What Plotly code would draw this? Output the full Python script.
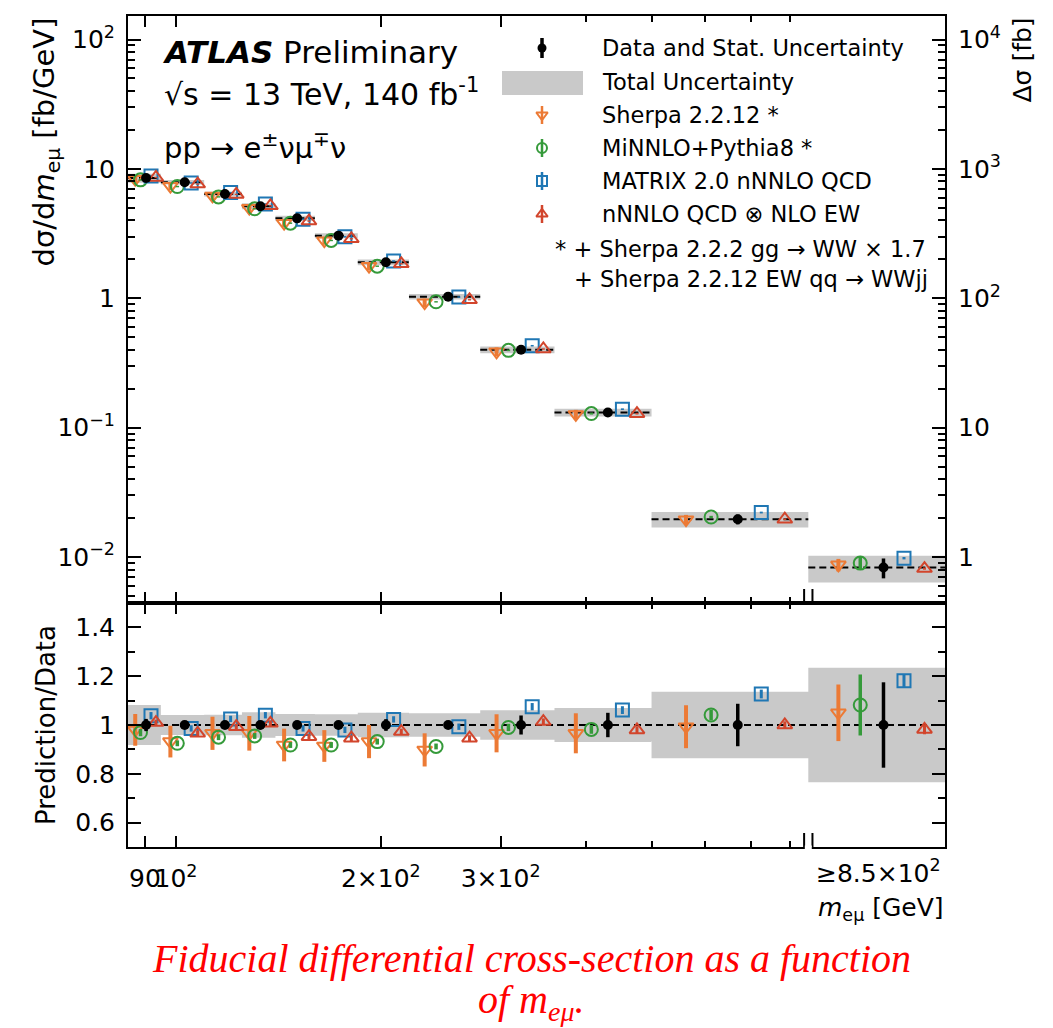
import numpy as np
import plotly.graph_objects as go

# ---------------- data ----------------
bin_edges = [85, 95, 110, 125, 140, 160, 185, 220, 280, 360, 500, 850, 1350]
data_xsec = [8.5, 7.9, 6.4, 5.15, 4.15, 3.05, 1.9, 1.03, 0.40, 0.131, 0.0196, 0.0083]
data_stat_rel = [0.025, 0.015, 0.015, 0.017, 0.015, 0.015, 0.024, 0.016, 0.039, 0.05, 0.087, 0.175]
total_unc_rel = [0.082, 0.041, 0.042, 0.052, 0.045, 0.044, 0.05, 0.048, 0.06, 0.07, 0.136, 0.235]

ratio_sherpa = [0.98, 0.932, 0.966, 0.966, 0.918, 0.914, 0.932, 0.898, 0.966, 0.966, 0.993, 1.05]
err_sherpa = [0.065, 0.065, 0.068, 0.071, 0.067, 0.065, 0.068, 0.068, 0.078, 0.082, 0.088, 0.116]
ratio_minnlo = [0.969, 0.925, 0.95, 0.955, 0.918, 0.918, 0.932, 0.912, 0.99, 0.982, 1.041, 1.082]
err_minnlo = [0.015, 0.012, 0.012, 0.012, 0.012, 0.012, 0.012, 0.012, 0.015, 0.018, 0.022, 0.125]
ratio_matrix = [1.038, 0.986, 1.025, 1.04, 0.986, 0.98, 1.023, 0.993, 1.075, 1.061, 1.127, 1.181]
err_matrix = [0.015, 0.013, 0.013, 0.013, 0.013, 0.013, 0.013, 0.013, 0.015, 0.016, 0.018, 0.025]
ratio_nnnlo = [1.01, 0.966, 0.993, 1.007, 0.952, 0.946, 0.973, 0.946, 1.014, 0.98, 1.0, 0.982]
err_nnnlo = [0.012, 0.012, 0.012, 0.012, 0.012, 0.012, 0.012, 0.012, 0.013, 0.015, 0.015, 0.02]

series_names = ["Sherpa 2.2.12 *", "MiNNLO+Pythia8 *", "MATRIX 2.0 nNNLO QCD", "nNNLO QCD \u2297 NLO EW"]
series_colors = ["#ec7a35", "#359a3a", "#1f77b4", "#d2452c"]
series_symbols = ["triangle-down-open", "circle-open", "square-open", "triangle-up-open"]
series_frac = [0.22, 0.38, 0.70, 0.85]   # position inside bin (log space)
series_bar_width = [4, 3.5, 3, 3]
data_frac = 0.55

x_tick_vals = [90, 100, 200, 300]
x_tick_text = ["90", "10<sup>2</sup>", "2\u00d710<sup>2</sup>", "3\u00d710<sup>2</sup>"]
x_minor_vals = [400, 500, 600, 700, 800]
overflow_label = "\u22658.5\u00d710<sup>2</sup>"

W, H = 1053, 1028
FONT = "DejaVu Sans"


def px(x):
    return x / W


def py(y):
    return 1 - y / H


edges = np.array(bin_edges, dtype=float)
lo, hi = np.log10(edges[:-1]), np.log10(edges[1:])


def pos(f):
    return 10 ** (lo + f * (hi - lo))


data = np.array(data_xsec)
stat = np.array(data_stat_rel)
tot = np.array(total_unc_rel)

fig = go.Figure()

# ---------- total uncertainty bands ----------
bx, by, rx, ry = [], [], [], []
for i in range(len(data)):
    e0, e1 = edges[i], edges[i + 1]
    d, u = data[i], tot[i]
    bx += [e0, e1, e1, e0, e0, None]
    by += [d * (1 - u), d * (1 - u), d * (1 + u), d * (1 + u), d * (1 - u), None]
    rx += [e0, e1, e1, e0, e0, None]
    ry += [1 - u, 1 - u, 1 + u, 1 + u, 1 - u, None]
band_col = "#c9c9c9"
fig.add_trace(go.Scatter(x=bx, y=by, mode="lines", fill="toself", fillcolor=band_col,
                         line=dict(width=0, color=band_col), xaxis="x", yaxis="y", hoverinfo="skip"))
fig.add_trace(go.Scatter(x=rx, y=ry, mode="lines", fill="toself", fillcolor=band_col,
                         line=dict(width=0, color=band_col), xaxis="x2", yaxis="y2", hoverinfo="skip"))

# ---------- dashed lines ----------
dx, dy = [], []
for i in range(len(data)):
    dx += [edges[i], edges[i + 1], None]
    dy += [data[i], data[i], None]
fig.add_trace(go.Scatter(x=dx, y=dy, mode="lines", line=dict(color="black", width=2, dash="7px,4px"),
                         xaxis="x", yaxis="y", hoverinfo="skip"))
fig.add_trace(go.Scatter(x=[edges[0], edges[-1]], y=[1, 1], mode="lines",
                         line=dict(color="black", width=2, dash="7px,4px"),
                         xaxis="x2", yaxis="y2", hoverinfo="skip"))

# ---------- predictions ----------
ratios = [ratio_sherpa, ratio_minnlo, ratio_matrix, ratio_nnnlo]
errs = [err_sherpa, err_minnlo, err_matrix, err_nnnlo]
for r, e, c, s, f, bw in zip(ratios, errs, series_colors, series_symbols, series_frac, series_bar_width):
    r = np.array(r)
    e = np.array(e)
    pred = r * data
    xs = pos(f)
    fig.add_trace(go.Scatter(x=xs, y=pred, mode="markers",
                             marker=dict(symbol=s, size=13, color=c, line=dict(width=2, color=c)),
                             error_y=dict(type="data", array=e * data, thickness=bw, width=0, color=c),
                             xaxis="x", yaxis="y"))
    fig.add_trace(go.Scatter(x=xs, y=r, mode="markers",
                             marker=dict(symbol=s, size=13, color=c, line=dict(width=2, color=c)),
                             error_y=dict(type="data", array=e, thickness=bw, width=0, color=c),
                             xaxis="x2", yaxis="y2"))

# ---------- data ----------
xd = pos(data_frac)
fig.add_trace(go.Scatter(x=xd, y=data, mode="markers",
                         marker=dict(symbol="circle", size=10, color="black"),
                         error_y=dict(type="data", array=stat * data, thickness=3.5, width=0, color="black"),
                         xaxis="x", yaxis="y"))
fig.add_trace(go.Scatter(x=xd, y=np.ones_like(data), mode="markers",
                         marker=dict(symbol="circle", size=10, color="black"),
                         error_y=dict(type="data", array=stat, thickness=3.5, width=0, color="black"),
                         xaxis="x2", yaxis="y2"))

# dummy trace to activate the right axis
fig.add_trace(go.Scatter(x=[100], y=[100], mode="markers", marker=dict(opacity=0),
                         xaxis="x", yaxis="y3", hoverinfo="skip"))

# ---------- legend glyphs (pixel overlay axis) ----------
leg_x = 542
leg_rows = [115, 148, 181, 214]
for c, s, yy in zip(series_colors, series_symbols, leg_rows):
    fig.add_trace(go.Scatter(x=[leg_x], y=[yy], mode="markers",
                             marker=dict(symbol=s, size=10, color=c, line=dict(width=2, color=c)),
                             error_y=dict(type="constant", value=9, thickness=2.5, width=0, color=c),
                             xaxis="x3", yaxis="y4", hoverinfo="skip"))
fig.add_trace(go.Scatter(x=[leg_x], y=[48], mode="markers",
                         marker=dict(symbol="circle", size=9, color="black"),
                         error_y=dict(type="constant", value=10, thickness=3.5, width=0, color="black"),
                         xaxis="x3", yaxis="y4", hoverinfo="skip"))

# ---------- axes ----------
xdom = [px(128), px(945)]
top_dom = [py(603), py(16)]
rat_dom = [py(847), py(603)]
xrange_log = [np.log10(edges[0]), np.log10(edges[-1])]
ytop_range = [-2.355, 2.182]

decades = [1e-3, 1e-2, 1e-1, 1, 10, 100]
ymin_minor = [m * d for d in decades for m in range(2, 10)]
r_decades = [1e-1, 1, 10, 100, 1000, 1e4]
r_minor = [m * d for d in r_decades for m in range(2, 10)]

tickfont = dict(family=FONT, size=25, color="black")
common_x = dict(type="log", range=xrange_log, domain=xdom, showgrid=False, zeroline=False,
                showline=True, linecolor="black", linewidth=2, mirror="ticks",
                ticks="inside", ticklen=11, tickwidth=1.5, tickcolor="black",
                tickmode="array", tickvals=x_tick_vals, ticktext=x_tick_text, tickangle=0,
                minor=dict(ticks="inside", ticklen=6, tickwidth=1.5, tickcolor="black",
                           tickmode="array", tickvals=x_minor_vals, showgrid=False))

fig.update_layout(
    width=W, height=H, margin=dict(l=0, r=0, t=0, b=0),
    paper_bgcolor="white", plot_bgcolor="rgba(0,0,0,0)", showlegend=False,
    font=dict(family=FONT, size=25, color="black"),
    xaxis=dict(**common_x, anchor="y", showticklabels=False),
    xaxis2=dict(**common_x, anchor="y2", matches="x", showticklabels=True, tickfont=tickfont,
                ticklabelstandoff=8),
    yaxis=dict(type="log", range=ytop_range, domain=top_dom, anchor="x", showgrid=False, zeroline=False,
               showline=True, linecolor="black", linewidth=2, ticks="inside", ticklen=13, tickwidth=1.5,
               tickcolor="black", tickmode="array", tickvals=[1e-2, 1e-1, 1, 10, 100],
               ticktext=["10<sup>\u22122</sup>", "10<sup>\u22121</sup>", "1", "10", "10<sup>2</sup>"],
               tickfont=tickfont, ticklabelstandoff=6,
               minor=dict(ticks="inside", ticklen=7, tickwidth=1.5, tickcolor="black",
                          tickmode="array", tickvals=ymin_minor, showgrid=False)),
    yaxis3=dict(type="log", range=[ytop_range[0] + 2, ytop_range[1] + 2], overlaying="y", side="right",
                anchor="x", showgrid=False, zeroline=False, showline=True, linecolor="black", linewidth=2,
                ticks="inside", ticklen=13, tickwidth=1.5, tickcolor="black", tickmode="array",
                tickvals=[1, 10, 100, 1000, 10000],
                ticktext=["1", "10", "10<sup>2</sup>", "10<sup>3</sup>", "10<sup>4</sup>"],
                tickfont=tickfont, ticklabelstandoff=6,
                minor=dict(ticks="inside", ticklen=7, tickwidth=1.5, tickcolor="black",
                           tickmode="array", tickvals=r_minor, showgrid=False)),
    yaxis2=dict(range=[0.5, 1.5], domain=rat_dom, anchor="x2", showgrid=False, zeroline=False,
                showline=True, linecolor="black", linewidth=2, mirror="ticks", ticks="inside",
                ticklen=13, tickwidth=1.5, tickcolor="black", tickmode="array",
                tickvals=[0.6, 0.8, 1.0, 1.2, 1.4], ticktext=["0.6", "0.8", "1", "1.2", "1.4"],
                tickfont=tickfont, ticklabelstandoff=6,
                minor=dict(ticks="inside", ticklen=7, tickwidth=1.5, tickcolor="black",
                           tickmode="array", tickvals=[0.5, 0.7, 0.9, 1.1, 1.3, 1.5], showgrid=False)),
    xaxis3=dict(domain=[0, 1], range=[0, W], anchor="y4", visible=False, fixedrange=True),
    yaxis4=dict(domain=[0, 1], range=[H, 0], anchor="x3", visible=False, fixedrange=True),
)

# ---------- shapes: legend box and axis break ----------
shapes = [dict(type="rect", xref="paper", yref="paper", x0=px(502), x1=px(583), y0=py(95), y1=py(71),
               fillcolor=band_col, line=dict(width=0), layer="below")]
for xb in [838, 862]:
    for ybot in [603, 847]:
        shapes.append(dict(type="line", xref="x", yref="paper", x0=xb, x1=xb, y0=py(ybot), y1=py(ybot - 14),
                           line=dict(color="black", width=2), layer="above"))
shapes.append(dict(type="rect", xref="x", yref="paper", x0=840, x1=860, y0=py(850), y1=py(845.5),
                   fillcolor="white", line=dict(width=0), layer="above"))
fig.update_layout(shapes=shapes)

# ---------- annotations ----------
ann = []


def add_text(text, x, y, size=22.5, xanchor="left", yanchor="middle", angle=0, family=FONT, color="black"):
    ann.append(dict(text=text, x=px(x), y=py(y), xref="paper", yref="paper", showarrow=False,
                    xanchor=xanchor, yanchor=yanchor, textangle=angle,
                    font=dict(family=family, size=size, color=color)))


add_text("<b><i>ATLAS</i></b> Preliminary", 160, 52, size=31)
add_text("\u221as = 13 TeV, 140 fb<sup>-1</sup>", 162, 92, size=30)
add_text("pp \u2192 e<sup>\u00b1</sup>\u03bd\u03bc<sup>\u2213</sup>\u03bd", 162, 146, size=29)

add_text("Data and Stat. Uncertainty", 600, 48)
add_text("Total Uncertainty", 600, 82)
for name, yy in zip(series_names, leg_rows):
    add_text(name, 600, yy)
add_text("* + Sherpa 2.2.2 gg \u2192 WW \u00d7 1.7", 928, 249, xanchor="right")
add_text("+ Sherpa 2.2.12 EW qq \u2192 WWjj", 930, 279, xanchor="right")

add_text("d\u03c3/d<i>m</i><sub>e\u03bc</sub> [fb/GeV]", 46, 16, size=29, xanchor="center", yanchor="top", angle=-90)
add_text("\u0394\u03c3 [fb]", 1022, 16, size=25, xanchor="center", yanchor="top", angle=-90)
add_text("Prediction/Data", 46, 725, size=26, xanchor="center", yanchor="middle", angle=-90)

add_text(overflow_label, 878, 871, size=25, xanchor="center")
add_text("<i>m</i><sub>e\u03bc</sub> [GeV]", 946, 909, size=25, xanchor="right")

add_text("<i>Fiducial differential cross-section as a function</i>", 531, 958, size=40,
         xanchor="center", family="Liberation Serif", color="#ff0000")
add_text("<i>of m<sub>e\u03bc</sub>.</i>", 531, 1002, size=40,
         xanchor="center", family="Liberation Serif", color="#ff0000")

fig.update_layout(annotations=ann)

fig.write_html("out.html")
